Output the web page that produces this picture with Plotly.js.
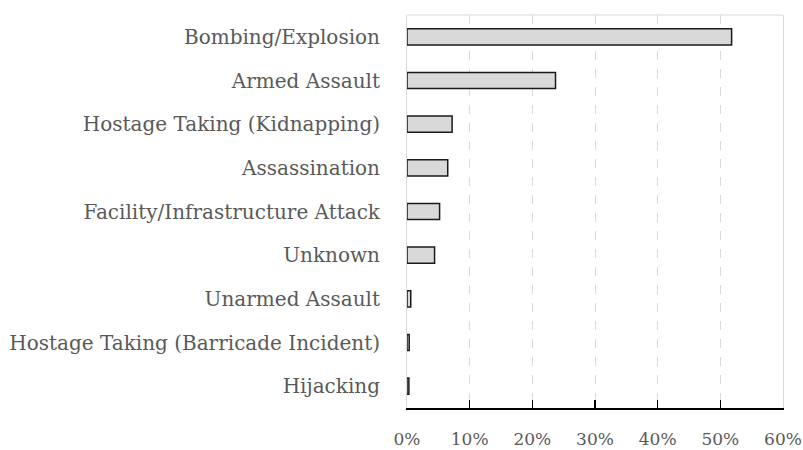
<!DOCTYPE html>
<html>
<head>
<meta charset="utf-8">
<script src="https://cdn.plot.ly/plotly-3.0.1.min.js"></script>
<style>html,body{margin:0;padding:0;background:#fff;}</style>
</head>
<body>
<div id="chart" style="width:803px;height:450px;"></div>
<script>
const categories = [
  "Bombing/Explosion",
  "Armed Assault",
  "Hostage Taking (Kidnapping)",
  "Assassination",
  "Facility/Infrastructure Attack",
  "Unknown",
  "Unarmed Assault",
  "Hostage Taking (Barricade Incident)",
  "Hijacking"
];
const shares = [0.518, 0.237, 0.072, 0.065, 0.052, 0.044, 0.006, 0.0035, 0.003];
const xTickVals = [0, 0.1, 0.2, 0.3, 0.4, 0.5, 0.6];
const xTickText = ["0%", "10%", "20%", "30%", "40%", "50%", "60%"];

const fontFamily = "'DejaVu Serif', serif";
const textColor = "#595959";

const trace = {
  type: "bar",
  orientation: "h",
  y: categories,
  x: shares,
  marker: { color: "#d9d9d9", line: { color: "#1a1a1a", width: 1.5 } },
  hoverinfo: "none"
};

const layout = {
  width: 803,
  height: 450,
  margin: { l: 407, r: 20, t: 15, b: 42 },
  paper_bgcolor: "#ffffff",
  plot_bgcolor: "#ffffff",
  showlegend: false,
  bargap: 0.63,
  font: { family: fontFamily, size: 20, color: textColor },
  xaxis: {
    range: [0, 0.6],
    tickvals: xTickVals,
    ticktext: xTickText,
    showgrid: true,
    gridcolor: "#d9d9d9",
    griddash: "dash",
    gridwidth: 1,
    zeroline: false,
    showline: true,
    linecolor: "#000000",
    linewidth: 1.5,
    ticks: "inside",
    ticklen: 8,
    tickwidth: 1.5,
    tickcolor: "#000000",
    ticklabelstandoff: 15,
    ticklabeloverflow: "allow",
    tickfont: { family: fontFamily, size: 17, color: textColor },
    fixedrange: true
  },
  yaxis: {
    categoryorder: "array",
    categoryarray: categories.slice().reverse(),
    autorange: true,
    showgrid: false,
    zeroline: false,
    showline: true,
    linecolor: "#d9d9d9",
    linewidth: 1,
    mirror: true,
    ticks: "",
    ticklabelstandoff: 22,
    tickfont: { family: fontFamily, size: 20, color: textColor },
    fixedrange: true
  },
  shapes: [{
    type: "line", xref: "paper", yref: "paper",
    x0: 0, x1: 1, y0: 1, y1: 1,
    line: { color: "#d9d9d9", width: 1 }
  }]
};

Plotly.newPlot("chart", [trace], layout, { displayModeBar: false, staticPlot: true });
</script>
</body>
</html>
